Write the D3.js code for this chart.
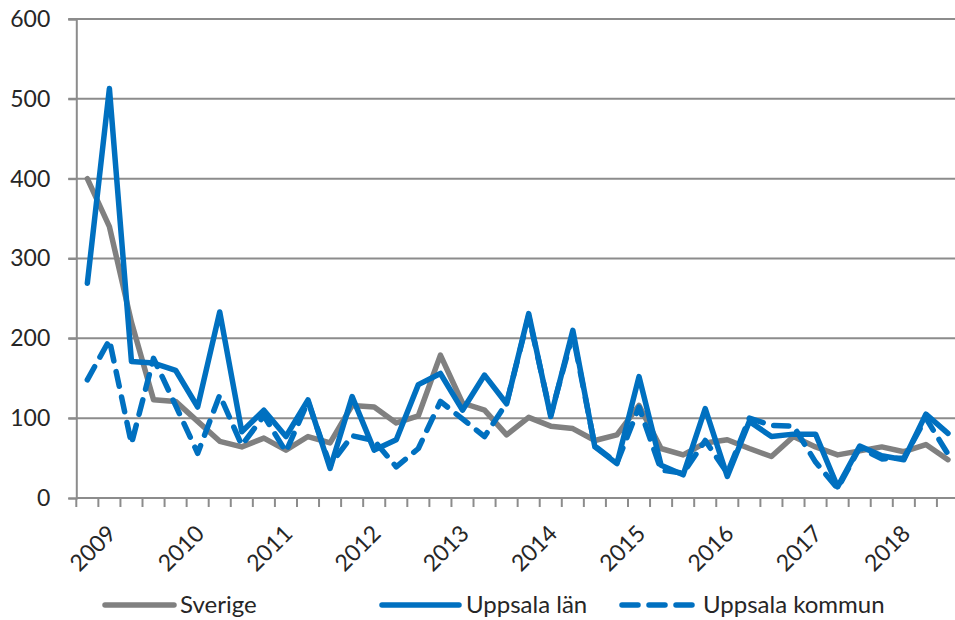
<!DOCTYPE html>
<html>
<head>
<meta charset="utf-8">
<script src="https://cdn.jsdelivr.net/npm/d3@7"></script>
<style>
  body { margin: 0; background: #fff; }
  text { font-family: Lato, "Liberation Sans", sans-serif; fill: #262626; }
</style>
</head>
<body>
<div id="chart"></div>
<script>
// quarterly values 2009 Q1 - 2018 Q4
var years = ["2009", "2010", "2011", "2012", "2013", "2014", "2015", "2016", "2017", "2018"];
var quarters = [];
years.forEach(function (y) { for (var q = 1; q <= 4; q++) quarters.push(y + "Q" + q); });

var sverige = [400, 340, 220, 123, 121, 96, 71, 64, 75, 60, 77, 69, 116, 114, 94, 103,
               179, 119, 110, 79, 101, 90, 87, 72, 79, 116, 62, 54, 69, 73, 62, 52,
               77, 64, 54, 59, 64, 58, 67, 48];
var uppsalaLan = [269, 513, 171, 169, 160, 114, 233, 83, 110, 77, 123, 37, 127, 60, 73, 142,
                  156, 110, 154, 118, 231, 102, 210, 64, 43, 152, 41, 29, 112, 27, 96, 77,
                  80, 80, 14, 65, 53, 48, 105, 81];
var uppsalaKommun = [148, 198, 68, 175, 116, 56, 129, 66, 103, 58, 121, 41, 78, 72, 39, 62,
                     121, 99, 77, 119, 228, 104, 205, 65, 44, 114, 35, 31, 72, 31, 100, 91,
                     90, 45, 12, 63, 49, 50, 100, 55];
var yTicks = [0, 100, 200, 300, 400, 500, 600];

var series = [
  { name: "Sverige", values: sverige, color: "#808080", dash: null },
  { name: "Uppsala län", values: uppsalaLan, color: "#0070C0", dash: null },
  { name: "Uppsala kommun", values: uppsalaKommun, color: "#0070C0", dash: "15,11" }
];

var width = 955, height = 620;
var plotLeft = 76.3, plotRight = 959, plotTop = 19, plotBottom = 498;

var svg = d3.select("#chart").append("svg")
    .attr("width", width)
    .attr("height", height);

var x = d3.scaleBand()
    .domain(quarters)
    .range([plotLeft, plotRight]);

var y = d3.scaleLinear()
    .domain([0, 600])
    .range([plotBottom, plotTop]);

// gridlines
svg.append("g")
    .selectAll("line")
    .data(yTicks.slice(1))
    .enter().append("line")
    .attr("x1", plotLeft - 8)
    .attr("x2", width)
    .attr("y1", function (d) { return y(d); })
    .attr("y2", function (d) { return y(d); })
    .attr("stroke", "#8c8c8c")
    .attr("stroke-width", 2);

// y axis
var yAxis = d3.axisLeft(y)
    .tickValues(yTicks)
    .tickSize(8)
    .tickPadding(18);

var gy = svg.append("g")
    .attr("transform", "translate(" + plotLeft + ",0)")
    .call(yAxis);
gy.select(".domain").attr("stroke", "#8c8c8c").attr("stroke-width", 2);
gy.selectAll(".tick line").attr("stroke", "#8c8c8c").attr("stroke-width", 2);
gy.selectAll(".tick text")
    .style("font-size", "23px")
    .style("font-family", "Lato, sans-serif")
    .attr("fill", "#262626");

// x axis: a tick at every category boundary
var boundaries = d3.range(quarters.length + 1).map(function (i) { return plotLeft + i * x.step(); });
svg.append("line")
    .attr("x1", plotLeft).attr("x2", width)
    .attr("y1", plotBottom).attr("y2", plotBottom)
    .attr("stroke", "#8c8c8c").attr("stroke-width", 2);
svg.append("g")
    .selectAll("line")
    .data(boundaries)
    .enter().append("line")
    .attr("x1", function (d) { return d; })
    .attr("x2", function (d) { return d; })
    .attr("y1", plotBottom)
    .attr("y2", plotBottom + 9)
    .attr("stroke", "#8c8c8c")
    .attr("stroke-width", 2);

svg.append("g")
    .selectAll("text")
    .data(years)
    .enter().append("text")
    .attr("text-anchor", "end")
    .style("font-size", "23px")
    .attr("transform", function (d) {
      var cx = x(d + "Q1") + x.bandwidth() / 2;
      return "translate(" + (cx + 30) + "," + (plotBottom + 37) + ") rotate(-45)";
    })
    .text(function (d) { return d; });

// lines
var line = d3.line()
    .x(function (d, i) { return x(quarters[i]) + x.bandwidth() / 2; })
    .y(function (d) { return y(d); });

series.forEach(function (s) {
  svg.append("path")
      .datum(s.values)
      .attr("d", line)
      .attr("fill", "none")
      .attr("stroke", s.color)
      .attr("stroke-width", 5.5)
      .attr("stroke-linejoin", "round")
      .attr("stroke-linecap", "round")
      .attr("stroke-dasharray", s.dash);
});

// legend
var legendPos = [{ x1: 105, x2: 174, tx: 180 }, { x1: 382, x2: 459, tx: 466 }, { x1: 622, x2: 696, tx: 703 }];
var legend = svg.selectAll(".legend")
    .data(series)
    .enter().append("g")
    .attr("class", "legend");

legend.append("line")
    .attr("x1", function (d, i) { return legendPos[i].x1; })
    .attr("x2", function (d, i) { return legendPos[i].x2; })
    .attr("y1", 605).attr("y2", 605)
    .attr("stroke", function (d) { return d.color; })
    .attr("stroke-width", 5.5)
    .attr("stroke-linecap", "round")
    .attr("stroke-dasharray", function (d) { return d.dash ? "16,11" : null; });

legend.append("text")
    .attr("x", function (d, i) { return legendPos[i].tx; })
    .attr("y", 605)
    .attr("dy", "0.35em")
    .style("font-size", "24px")
    .text(function (d) { return d.name; });
</script>
</body>
</html>
